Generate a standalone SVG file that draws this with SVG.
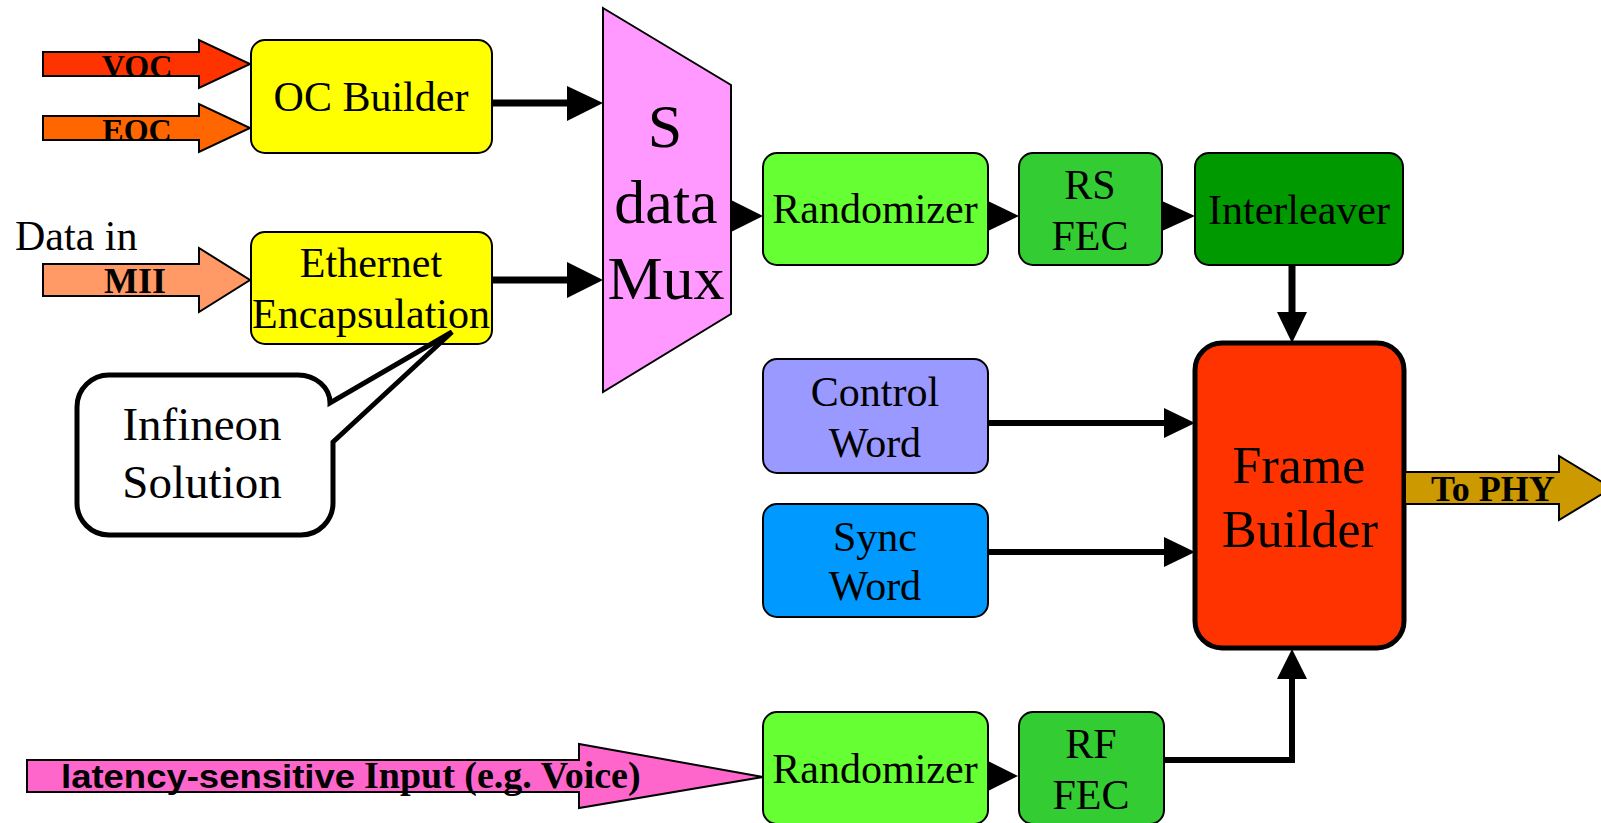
<svg xmlns="http://www.w3.org/2000/svg" width="1601" height="823" viewBox="0 0 1601 823">
<style>
.box{stroke:#000;stroke-width:2}
.t{font-family:"Liberation Serif","Times New Roman",serif;font-size:42px;fill:#000;text-anchor:middle}
.t47{font-size:47px}
.t52{font-size:52px}
.t62{font-size:62px}
.b{font-family:"Liberation Serif","Times New Roman",serif;font-weight:bold;fill:#000}
.ln{stroke:#000;stroke-width:7;fill:none}
.ln6{stroke-width:6}
.hd{fill:#000;stroke:none}
.fat{stroke:#000;stroke-width:2}
</style>
<rect width="1601" height="823" fill="#fff"/>

<g id="voc-input">
<polygon class="fat" fill="#ff3300" points="43,52 199,52 199,40 250,64 199,88 199,76 43,76"/>
<text class="b" x="137" y="77" font-size="32" text-anchor="middle">VOC</text>
</g>
<g id="eoc-input">
<polygon class="fat" fill="#ff6600" points="43,116 199,116 199,104 250,128 199,152 199,140 43,140"/>
<text class="b" x="137" y="141" font-size="32" text-anchor="middle">EOC</text>
</g>
<g id="mii-input">
<text x="15" y="250" font-family="Liberation Serif, Times New Roman, serif" font-size="42">Data in</text>
<polygon class="fat" fill="#ff9966" points="43,264 199,264 199,248 250,280 199,312 199,296 43,296"/>
<text class="b" x="135" y="293" font-size="36" text-anchor="middle">MII</text>
</g>

<g id="oc-builder">
<rect class="box" x="251" y="40" width="241" height="113" rx="14" fill="#ffff00"/>
<text class="t" x="371" y="111">OC Builder</text>
</g>
<g id="ethernet-encapsulation">
<rect class="box" x="251" y="232" width="241" height="112" rx="14" fill="#ffff00"/>
<text class="t" x="371" y="277">Ethernet</text>
<text class="t" x="371" y="328">Encapsulation</text>
</g>

<g id="infineon-callout">
<path d="M110,375 H298 A32,28 0 0 1 330,403 L452,332 L333,442 V503 A32,32 0 0 1 301,535 H109 A32,32 0 0 1 77,503 V407 A32,32 0 0 1 110,375 Z" fill="#fff" stroke="#000" stroke-width="5" stroke-linejoin="miter"/>
<text class="t t47" x="202" y="440">Infineon</text>
<text class="t t47" x="202" y="498">Solution</text>
</g>

<g id="sdata-mux">
<polygon class="box" fill="#ff99ff" points="603,8 731,85 731,314 603,392"/>
<text class="t t62" x="665" y="147">S</text>
<text class="t t62" x="666" y="223">data</text>
<text class="t t62" x="666" y="299">Mux</text>
</g>

<g id="randomizer-top">
<rect class="box" x="763" y="153" width="225" height="112" rx="14" fill="#66ff33"/>
<text class="t" x="875" y="223">Randomizer</text>
</g>
<g id="rs-fec">
<rect class="box" x="1019" y="153" width="143" height="112" rx="14" fill="#33cc33"/>
<text class="t" x="1090" y="199">RS</text>
<text class="t" x="1090" y="250">FEC</text>
</g>
<g id="interleaver">
<rect class="box" x="1195" y="153" width="208" height="112" rx="14" fill="#009900"/>
<text class="t" x="1299" y="224">Interleaver</text>
</g>
<g id="control-word">
<rect class="box" x="763" y="359" width="225" height="114" rx="14" fill="#9999ff"/>
<text class="t" x="875" y="406">Control</text>
<text class="t" x="875" y="457">Word</text>
</g>
<g id="sync-word">
<rect class="box" x="763" y="504" width="225" height="113" rx="14" fill="#0099ff"/>
<text class="t" x="875" y="551">Sync</text>
<text class="t" x="875" y="600">Word</text>
</g>
<g id="frame-builder">
<rect x="1195" y="343" width="209" height="305" rx="27" fill="#ff3300" stroke="#000" stroke-width="5"/>
<text class="t t52" x="1299" y="483">Frame</text>
<text class="t t52" x="1300" y="547">Builder</text>
</g>
<g id="to-phy">
<polygon class="fat" fill="#cc9900" points="1405,472 1559,472 1559,456 1612,488 1559,520 1559,504 1405,504"/>
<text class="b" x="1431" y="501" font-size="36">To PHY</text>
</g>

<g id="latency-input">
<polygon class="fat" fill="#ff66cc" points="27,760 579,760 579,744 763,777 579,808 579,792 27,792"/>
<text x="61" y="788" font-family="Liberation Sans, Arial, sans-serif" font-weight="bold" font-size="34" textLength="294" lengthAdjust="spacingAndGlyphs">latency-sensitive</text>
<text class="b" x="364" y="788" font-size="38">Input (e.g. Voice)</text>
</g>
<g id="randomizer-bottom">
<rect class="box" x="763" y="712" width="225" height="112" rx="14" fill="#66ff33"/>
<text class="t" x="875" y="783">Randomizer</text>
</g>
<g id="rf-fec">
<rect class="box" x="1019" y="712" width="145" height="112" rx="14" fill="#33cc33"/>
<text class="t" x="1091" y="758">RF</text>
<text class="t" x="1091" y="809">FEC</text>
</g>

<g id="connectors">
<line class="ln" x1="492" y1="103" x2="569" y2="103"/>
<polygon class="hd" points="567,86 603,103 567,121"/>
<line class="ln" x1="492" y1="280" x2="569" y2="280"/>
<polygon class="hd" points="567,262 603,280 567,298"/>
<polygon class="hd" points="731,200 763,216 731,232"/>
<polygon class="hd" points="988,201 1019,216 988,231"/>
<polygon class="hd" points="1162,201 1195,216 1162,231"/>
<line class="ln" x1="1292" y1="265" x2="1292" y2="314"/>
<polygon class="hd" points="1277,312 1292,343 1307,312"/>
<line class="ln ln6" x1="988" y1="423" x2="1166" y2="423"/>
<polygon class="hd" points="1164,408 1195,423 1164,438"/>
<line class="ln ln6" x1="988" y1="552" x2="1166" y2="552"/>
<polygon class="hd" points="1164,537 1195,552 1164,567"/>
<polygon class="hd" points="988,761 1018,776 988,791"/>
<polyline class="ln ln6" points="1164,760 1292,760 1292,677"/>
<polygon class="hd" points="1277,679 1292,649 1307,679"/>
</g>
</svg>
